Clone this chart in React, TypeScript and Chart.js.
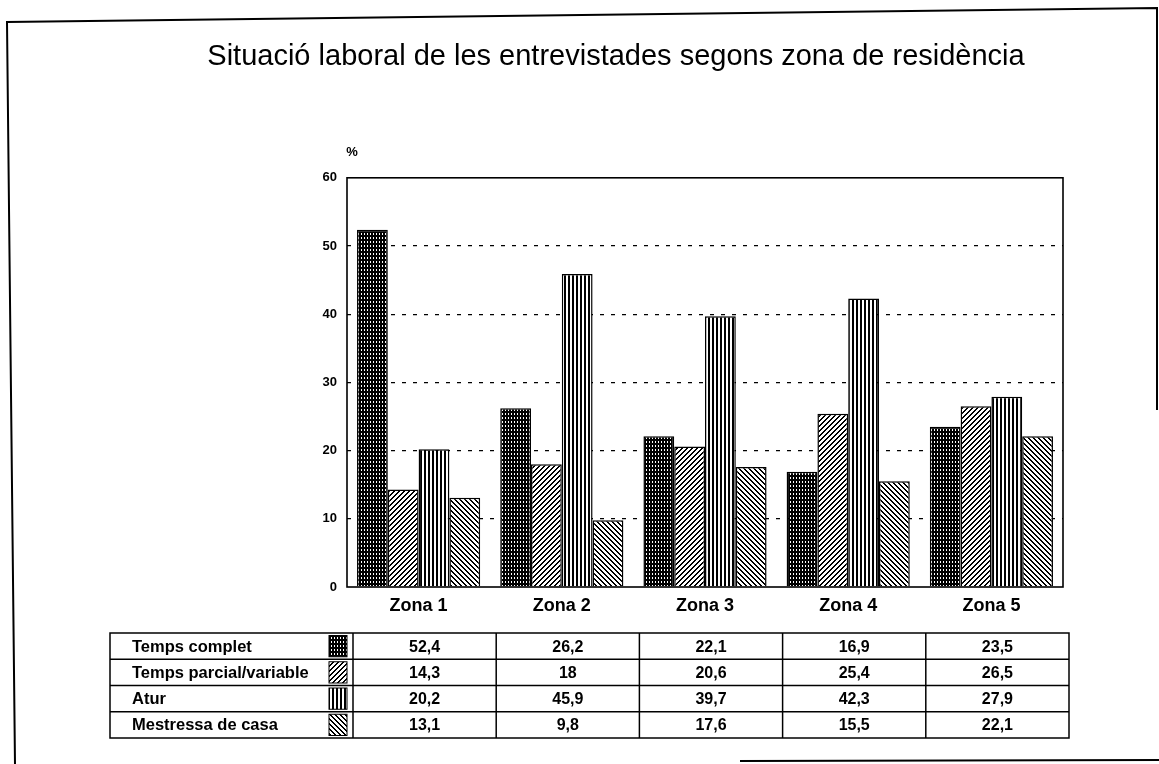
import React, { useEffect, useRef } from "react";
import { Chart, registerables } from "chart.js";

Chart.register(...registerables);

const TITLE = "Situació laboral de les entrevistades segons zona de residència";
const zones = ["Zona 1", "Zona 2", "Zona 3", "Zona 4", "Zona 5"];
const seriesNames = ["Temps complet", "Temps parcial/variable", "Atur", "Mestressa de casa"];
const tempsComplet = [52.4, 26.2, 22.1, 16.9, 23.5];
const tempsParcial = [14.3, 18, 20.6, 25.4, 26.5];
const atur = [20.2, 45.9, 39.7, 42.3, 27.9];
const mestressa = [13.1, 9.8, 17.6, 15.5, 22.1];
const yMin = 0;
const yMax = 60;
const yStep = 10;
const yUnit = "%";

const FONT = "'Liberation Sans', Arial, Helvetica, sans-serif";

function makePattern(kind: string): CanvasPattern | string {
  const c = document.createElement("canvas");
  const g = c.getContext("2d");
  if (!g) return "#888";
  if (kind === "dots") {
    c.width = 3; c.height = 4;
    g.fillStyle = "#000"; g.fillRect(0, 0, 3, 4);
    g.fillStyle = "#fff"; g.fillRect(1, 1, 1, 2);
  } else if (kind === "fwd") {
    c.width = 5; c.height = 5;
    g.fillStyle = "#fff"; g.fillRect(0, 0, 5, 5);
    g.fillStyle = "#000";
    for (let i = 0; i < 5; i++) {
      g.fillRect(i, 4 - i, 1, 1);
      g.fillRect((i + 1) % 5, 4 - i, 1, 1);
    }
  } else if (kind === "vert") {
    c.width = 4; c.height = 4;
    g.fillStyle = "#fff"; g.fillRect(0, 0, 4, 4);
    g.fillStyle = "#000"; g.fillRect(0, 0, 2, 4);
  } else {
    c.width = 5; c.height = 5;
    g.fillStyle = "#fff"; g.fillRect(0, 0, 5, 5);
    g.fillStyle = "#000";
    for (let i = 0; i < 5; i++) {
      g.fillRect(i, i, 1, 1);
      g.fillRect((i + 1) % 5, i, 1, 1);
    }
  }
  const p = g.createPattern(c, "repeat");
  return p || "#888";
}

const fmt = (v: number) => String(v).replace(".", ",");

export default function App() {
  const ref = useRef<HTMLCanvasElement | null>(null);

  useEffect(() => {
    document.body.style.margin = "0";
    const canvas = ref.current;
    if (!canvas) return;
    const patterns = [makePattern("dots"), makePattern("fwd"), makePattern("vert"), makePattern("back")];
    const seriesValues = [tempsComplet, tempsParcial, atur, mestressa];

    const decor = {
      id: "decor",
      afterDatasetsDraw(chart: any) {
        const { ctx, chartArea: ca } = chart;
        ctx.save();
        ctx.strokeStyle = "#000";
        ctx.lineWidth = 1.6;
        ctx.setLineDash([]);
        ctx.strokeRect(ca.left, ca.top, ca.right - ca.left, ca.bottom - ca.top);
        ctx.restore();
      },
      afterDraw(chart: any) {
        const { ctx, chartArea: ca } = chart;
        const xs = chart.scales.x;
        ctx.save();
        ctx.setLineDash([]);
        ctx.strokeStyle = "#000";
        ctx.fillStyle = "#000";

        // page frame
        ctx.lineWidth = 2;
        ctx.beginPath();
        ctx.moveTo(15, 764);
        ctx.lineTo(7, 22);
        ctx.lineTo(1157, 8);
        ctx.lineTo(1157, 410);
        ctx.stroke();
        ctx.beginPath();
        ctx.moveTo(740, 761);
        ctx.lineTo(1159, 760);
        ctx.stroke();

        // unit label
        ctx.font = `bold 13px ${FONT}`;
        ctx.textAlign = "center";
        ctx.textBaseline = "middle";
        ctx.fillText(yUnit, ca.left + 5, ca.top - 25);

        // data table
        const n = zones.length;
        const catW = (ca.right - ca.left) / n;
        const shift = 6;
        const colLeft = (i: number) => xs.getPixelForValue(i) - catW / 2 + shift;
        const tableRight = colLeft(n - 1) + catW;
        const labelLeft = colLeft(0) - 243;
        const top = ca.bottom + 46;
        const rowH = 26.25;
        const rows = seriesNames.length;

        ctx.lineWidth = 1.5;
        ctx.strokeRect(labelLeft, top, tableRight - labelLeft, rowH * rows);
        for (let r = 1; r < rows; r++) {
          ctx.beginPath();
          ctx.moveTo(labelLeft, top + r * rowH);
          ctx.lineTo(tableRight, top + r * rowH);
          ctx.stroke();
        }
        for (let i = 0; i < n; i++) {
          ctx.beginPath();
          ctx.moveTo(colLeft(i), top);
          ctx.lineTo(colLeft(i), top + rowH * rows);
          ctx.stroke();
        }
        for (let r = 0; r < rows; r++) {
          const cy = top + r * rowH + rowH / 2 + 1;
          ctx.fillStyle = "#000";
          ctx.font = `bold 16.5px ${FONT}`;
          ctx.textAlign = "left";
          ctx.textBaseline = "middle";
          ctx.fillText(seriesNames[r], labelLeft + 22, cy);
          // swatch
          const sx = colLeft(0) - 24;
          const sy = top + r * rowH + 2.5;
          ctx.fillStyle = patterns[r] as any;
          ctx.fillRect(sx, sy, 18, rowH - 5);
          ctx.lineWidth = 1;
          ctx.strokeRect(sx, sy, 18, rowH - 5);
          ctx.lineWidth = 1.5;
          ctx.fillStyle = "#000";
          ctx.textAlign = "center";
          ctx.font = `bold 16px ${FONT}`;
          for (let i = 0; i < n; i++) {
            ctx.fillText(fmt(seriesValues[r][i]), colLeft(i) + catW / 2, cy);
          }
        }
        ctx.restore();
      },
    };

    const chart = new Chart(canvas, {
      type: "bar",
      data: {
        labels: zones,
        datasets: seriesNames.map((name, k) => ({
          label: name,
          data: seriesValues[k],
          backgroundColor: patterns[k] as any,
          borderColor: "#000",
          borderWidth: 1.5,
          borderSkipped: "bottom",
          categoryPercentage: 0.86,
          barPercentage: 1,
        })),
      },
      options: {
        responsive: false,
        animation: false,
        devicePixelRatio: 1,
        layout: { padding: { left: 169, right: 96, top: 0, bottom: 0 } },
        plugins: {
          legend: { display: false },
          tooltip: { enabled: false },
          title: {
            display: true,
            text: TITLE,
            color: "#000",
            font: { family: FONT, size: 29, weight: "normal" },
            padding: { top: 40, bottom: 103 },
          },
        },
        scales: {
          x: {
            grid: { display: false, drawTicks: false },
            border: { display: false },
            ticks: { color: "#000", font: { family: FONT, size: 18, weight: "bold" }, padding: 8 },
            afterFit: (s: any) => { s.height = 177; },
          },
          y: {
            min: yMin,
            max: yMax,
            grid: {
              drawTicks: false,
              lineWidth: 1.3,
              color: (c: any) => (c.tick && (c.tick.value === yMin || c.tick.value === yMax) ? "rgba(0,0,0,0)" : "#000"),
            },
            border: { display: false, dash: [4, 7] },
            ticks: { stepSize: yStep, color: "#000", font: { family: FONT, size: 13, weight: "bold" }, padding: 10 },
            afterFit: (s: any) => { s.width = 178; },
          },
        },
      },
      plugins: [decor],
    });
    return () => chart.destroy();
  }, []);

  return (
    <div style={{ width: 1159, height: 764, background: "#fff", overflow: "hidden" }}>
      <canvas ref={ref} width={1159} height={764} style={{ display: "block" }} />
    </div>
  );
}
